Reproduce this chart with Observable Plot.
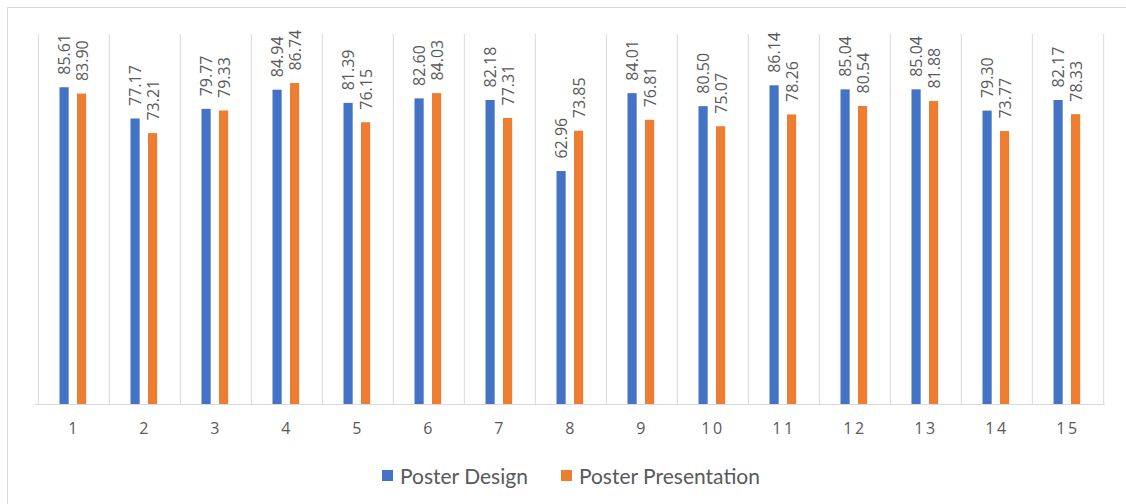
<!DOCTYPE html>
<html><head><meta charset="utf-8">
<script src="https://cdn.jsdelivr.net/npm/d3@7"></script>
<script src="https://cdn.jsdelivr.net/npm/@observablehq/plot@0.6"></script>
<style>
html,body{margin:0;padding:0;background:#fff}
body{width:1126px;height:504px;overflow:hidden;position:relative;font-family:"Open Sans",sans-serif}
#frame{position:absolute;left:7px;top:7px;width:1140px;height:520px;border:1px solid #d9d9d9;box-sizing:border-box}
#chart{position:absolute;left:0;top:0}
#chart g[aria-label="x-axis tick label"]{font-size:16px}
#chart g[aria-label="x-axis tick label"] text{letter-spacing:2.5px;font-size:16px}
#legend{position:absolute;top:463px;left:382px;display:flex;align-items:center;font-family:Lato,sans-serif;font-size:21px;color:#595959}
.item{display:flex;align-items:center;margin-right:33px}
.sw{width:11px;height:11px;margin-right:7px}
</style>
</head><body>
<div id="frame"></div>
<div id="chart"></div>
<div id="legend"></div>
<script>
const groups = ["1","2","3","4","5","6","7","8","9","10","11","12","13","14","15"];
const design = [85.61, 77.17, 79.77, 84.94, 81.39, 82.60, 82.18, 62.96, 84.01, 80.50, 86.14, 85.04, 85.04, 79.30, 82.17];
const presentation = [83.90, 73.21, 79.33, 86.74, 76.15, 84.03, 77.31, 73.85, 76.81, 75.07, 78.26, 80.54, 81.88, 73.77, 78.33];
const seriesNames = ["Poster Design", "Poster Presentation"];
const colors = ["#4472C4", "#ED7D31"];

const W = 1126, H = 450, mL = 35, mR = 21, mT = 34, mB = 46;
const step = (W - mL - mR) / groups.length;

const dData = groups.map((g, i) => ({group: g, value: design[i]}));
const pData = groups.map((g, i) => ({group: g, value: presentation[i]}));

const fmt = d => d.value.toFixed(2);
const textStyle = {fontSize: 16, fill: "#595959", rotate: -90, textAnchor: "start", lineAnchor: "middle", fontFamily: "Open Sans"};

const chart = Plot.plot({
  width: W, height: H,
  marginLeft: mL, marginRight: mR, marginTop: mT, marginBottom: mB,
  style: {fontFamily: "Open Sans", fontSize: "16px", color: "#595959", background: "transparent"},
  x: {type: "band", domain: groups, padding: 0, label: null, tickSize: 0, tickPadding: 18},
  y: {domain: [0, 100], axis: null},
  marks: [
    Plot.ruleX(groups, {x: d => d, dx: -step / 2, y1: 0, y2: 100, stroke: "#d9d9d9"}),
    Plot.ruleX([groups[groups.length - 1]], {x: d => d, dx: step / 2, y1: 0, y2: 100, stroke: "#d9d9d9"}),
    Plot.ruleY([0], {stroke: "#d9d9d9"}),
    Plot.barY(dData, {x: "group", y: "value", fill: colors[0], insetLeft: 21.5, insetRight: step - 31}),
    Plot.barY(pData, {x: "group", y: "value", fill: colors[1], insetLeft: 39, insetRight: step - 48.5}),
    Plot.text(dData, {x: "group", y: "value", text: fmt, dx: -9, dy: -13, ...textStyle}),
    Plot.text(pData, {x: "group", y: "value", text: fmt, dx: 9, dy: -13, ...textStyle})
  ]
});
document.getElementById("chart").append(chart);

const legend = document.getElementById("legend");
seriesNames.forEach((name, i) => {
  const item = document.createElement("div");
  item.className = "item";
  const sw = document.createElement("span");
  sw.className = "sw";
  sw.style.background = colors[i];
  const t = document.createElement("span");
  t.textContent = name;
  item.append(sw, t);
  legend.append(item);
});
</script>
</body></html>
